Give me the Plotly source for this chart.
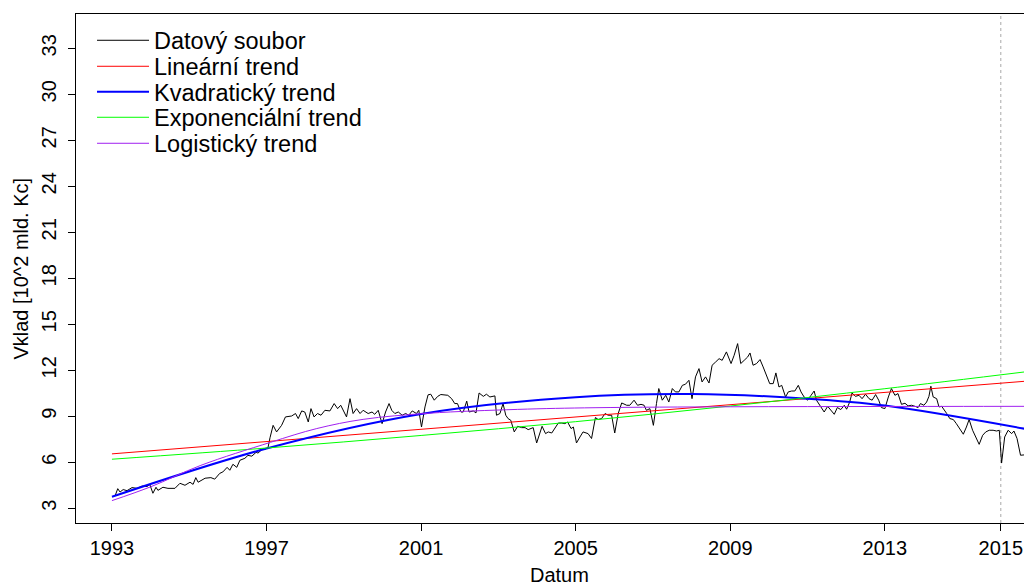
import plotly.graph_objects as go

# ---- data ----
dates = [1993.08, 1993.15, 1993.21, 1993.29, 1993.39, 1993.52, 1993.65, 1993.78, 1993.91, 1993.98,
         1994.06, 1994.14, 1994.19, 1994.32, 1994.45, 1994.63, 1994.76, 1994.89, 1995.02, 1995.10,
         1995.17, 1995.23, 1995.41, 1995.56, 1995.66, 1995.79, 1995.87, 1995.98, 1996.05, 1996.13,
         1996.23, 1996.31, 1996.44, 1996.52, 1996.62, 1996.73, 1996.78, 1996.91, 1996.96, 1997.04,
         1997.09, 1997.17, 1997.26, 1997.39, 1997.49, 1997.65, 1997.75, 1997.82, 1997.91, 1997.99,
         1998.08, 1998.15, 1998.23, 1998.32, 1998.41, 1998.51, 1998.64, 1998.75, 1998.84, 1998.92,
         1999.07, 1999.16, 1999.24, 1999.33, 1999.42, 1999.50, 1999.63, 1999.73, 1999.80, 1999.89,
         1999.99, 2000.08, 2000.17, 2000.24, 2000.32, 2000.41, 2000.51, 2000.60, 2000.68, 2000.77,
         2000.88, 2000.94, 2001.01, 2001.10, 2001.18, 2001.25, 2001.34, 2001.43, 2001.51, 2001.69,
         2001.79, 2001.87, 2001.94, 2002.03, 2002.09, 2002.18, 2002.24, 2002.35, 2002.42, 2002.50,
         2002.61, 2002.69, 2002.78, 2002.91, 2002.95, 2003.04, 2003.12, 2003.19, 2003.25, 2003.32,
         2003.41, 2003.50, 2003.60, 2003.69, 2003.77, 2003.90, 2003.99, 2004.07, 2004.13, 2004.22,
         2004.29, 2004.38, 2004.46, 2004.55, 2004.64, 2004.72, 2004.79, 2004.88, 2004.94, 2005.02,
         2005.11, 2005.19, 2005.32, 2005.41, 2005.51, 2005.58, 2005.67, 2005.76, 2005.84, 2005.93,
         2006.01, 2006.10, 2006.19, 2006.32, 2006.40, 2006.51, 2006.60, 2006.69, 2006.77, 2006.83,
         2006.92, 2007.01, 2007.09, 2007.15, 2007.24, 2007.33, 2007.41, 2007.50, 2007.58, 2007.67,
         2007.76, 2007.84, 2007.93, 2008.01, 2008.10, 2008.19, 2008.27, 2008.36, 2008.45, 2008.53,
         2008.62, 2008.71, 2008.79, 2008.90, 2009.02, 2009.10, 2009.19, 2009.27, 2009.36, 2009.45,
         2009.51, 2009.59, 2009.68, 2009.77, 2009.85, 2009.94, 2010.02, 2010.11, 2010.18, 2010.26,
         2010.33, 2010.43, 2010.50, 2010.59, 2010.67, 2010.76, 2010.83, 2010.91, 2011.00, 2011.09,
         2011.17, 2011.23, 2011.32, 2011.43, 2011.52, 2011.60, 2011.69, 2011.77, 2011.86, 2011.95,
         2012.01, 2012.09, 2012.15, 2012.24, 2012.33, 2012.41, 2012.50, 2012.59, 2012.67, 2012.76,
         2012.84, 2012.91, 2013.00, 2013.09, 2013.17, 2013.26, 2013.34, 2013.43, 2013.52, 2013.60,
         2013.69, 2013.78, 2013.86, 2013.92, 2014.01, 2014.08, 2014.14, 2014.19, 2014.25, 2014.34,
         2014.40, 2014.47, 2014.53, 2014.60, 2014.68, 2014.77, 2014.85, 2014.94, 2015.03, 2015.11,
         2015.18, 2015.27, 2015.35, 2015.44, 2015.53, 2015.61, 2015.70, 2015.80, 2015.89, 2015.96,
         2016.02, 2016.10, 2016.19, 2016.28, 2016.34, 2016.42, 2016.51, 2016.60, 2016.68]
values = [3.80, 4.28, 4.06, 4.22, 4.15, 4.35, 4.30, 4.45, 4.42, 4.55,
          3.98, 4.37, 4.17, 4.37, 4.30, 4.30, 4.63, 4.50, 4.70, 4.56,
          5.00, 4.70, 4.96, 5.00, 4.90, 5.28, 5.37, 5.67, 5.48, 5.87,
          5.67, 6.13, 6.26, 6.45, 6.40, 6.65, 6.60, 6.90, 6.84, 6.98,
          7.60, 8.41, 7.98, 8.41, 8.96, 9.02, 9.18, 8.85, 9.35, 9.28,
          8.63, 9.50, 8.96, 9.18, 9.07, 9.39, 9.35, 9.83, 9.50, 9.72,
          8.96, 10.15, 9.18, 9.50, 9.18, 9.39, 9.18, 9.28, 9.13, 9.39,
          8.52, 9.28, 9.83, 9.39, 9.18, 9.28, 9.07, 9.18, 9.07, 9.35,
          9.18, 9.39, 8.30, 9.61, 10.40, 10.44, 10.05, 10.30, 10.42, 10.37,
          10.15, 9.83, 9.83, 9.28, 9.28, 9.99, 9.28, 9.35, 9.22, 10.52,
          10.30, 10.44, 10.26, 10.33, 9.07, 9.18, 9.83, 9.07, 8.85, 8.74,
          7.98, 8.35, 8.26, 8.26, 8.13, 8.26, 7.26, 7.87, 8.35, 7.87,
          7.98, 7.91, 8.26, 8.56, 8.56, 8.52, 8.63, 8.20, 8.30, 7.26,
          7.65, 7.98, 7.87, 7.55, 8.92, 8.79, 8.85, 9.18, 9.07, 9.07,
          7.91, 9.18, 9.87, 9.72, 9.72, 10.05, 9.72, 9.78, 9.72, 9.39,
          9.50, 8.41, 9.83, 10.81, 10.05, 10.37, 9.93, 10.81, 10.59, 10.59,
          11.02, 11.09, 11.35, 10.15, 11.57, 12.11, 11.24, 11.57, 11.17, 12.33,
          12.54, 12.76, 12.65, 13.20, 12.44, 12.98, 13.74, 12.44, 12.65, 12.87,
          13.13, 12.33, 12.44, 12.70, 12.22, 11.68, 11.13, 11.13, 11.83, 10.91,
          11.02, 10.26, 10.59, 10.65, 10.65, 11.02, 10.59, 10.26, 10.05, 10.37,
          10.65, 10.05, 9.72, 9.28, 9.65, 9.39, 9.13, 9.57, 9.44, 9.72,
          9.46, 9.93, 10.52, 10.30, 10.37, 10.15, 10.44, 10.15, 10.05, 10.42,
          10.05, 9.57, 9.50, 10.26, 10.81, 10.37, 10.48, 9.78, 9.85, 9.68,
          9.72, 9.65, 9.57, 9.83, 9.72, 9.93, 10.30, 10.96, 10.26, 10.15,
          9.61, 9.65, 9.39, 9.18, 8.85, 8.79, 8.52, 8.20, 7.83, 8.30,
          8.79, 8.09, 7.61, 7.17, 7.76, 7.98, 8.09, 8.09, 8.04, 8.09,
          5.95, 7.65, 8.09, 7.87, 8.04, 7.55, 6.46, 6.46, 6.50]

# trend curves, values read at a few dates
lin_dates = [1993.0, 2016.7]
lin_values = [6.55, 11.30]

quad_dates = [1993.0, 1997.0, 2001.0, 2005.0, 2008.0, 2011.0, 2013.0, 2016.7]
quad_values = [3.75, 6.90, 9.15, 10.25, 10.45, 10.15, 9.70, 8.15]

exp_dates = [1993.0, 1997.0, 2001.0, 2005.0, 2009.0, 2013.0, 2016.7]
exp_values = [6.20, 6.93, 7.75, 8.65, 9.67, 10.80, 11.92]

log_dates = [1993.0, 1994.0, 1995.3, 1997.1, 1998.3, 1999.5, 2001.2, 2003.5, 2005.5, 2009.0, 2013.0, 2016.7]
log_values = [3.50, 4.40, 5.80, 7.30, 8.20, 8.80, 9.20, 9.45, 9.56, 9.62, 9.64, 9.65]

series_names = ["Datový soubor", "Lineární trend", "Kvadratický trend",
                "Exponenciální trend", "Logistický trend"]

x_tick_vals = [1993, 1997, 2001, 2005, 2009, 2013, 2016]
x_tick_text = ["1993", "1997", "2001", "2005", "2009", "2013", "2015"]
y_tick_vals = [3, 6, 9, 12, 15, 18, 21, 24, 27, 30, 33]
marker_date = 2016.0

FONT = "Liberation Sans, Arial, Helvetica, sans-serif"

fig = go.Figure()
traces = [
    (dates, values, dict(color="black", width=1)),
    (lin_dates, lin_values, dict(color="#FF0000", width=1)),
    (quad_dates, quad_values, dict(color="#0000FF", width=2, shape="spline")),
    (exp_dates, exp_values, dict(color="#00FF00", width=1, shape="spline")),
    (log_dates, log_values, dict(color="#A020F0", width=1, shape="spline")),
]
legend_ids = ["legend", "legend2", "legend3", "legend4", "legend5"]
for (xs, ys, ln), name, lid in zip(traces, series_names, legend_ids):
    fig.add_trace(go.Scatter(x=xs, y=ys, mode="lines", name=name, line=ln, legend=lid))

fig.add_shape(type="line", xref="x", yref="paper", x0=marker_date, x1=marker_date, y0=0, y1=1,
              line=dict(color="#A8A8A8", width=1, dash="dot"), layer="below")

legend_rows_y = [0.94794, 0.89685, 0.84676, 0.79666, 0.74558]
legend_layout = {}
for lid, ly in zip(legend_ids, legend_rows_y):
    legend_layout[lid] = dict(x=0.0169, y=ly, xanchor="left", yanchor="middle",
                              bgcolor="rgba(0,0,0,0)", borderwidth=0,
                              font=dict(size=23.5, family=FONT, color="black"),
                              itemwidth=52)

fig.update_layout(
    width=1024, height=585,
    margin=dict(l=76, r=0, t=14, b=62, autoexpand=False),
    paper_bgcolor="white", plot_bgcolor="white",
    font=dict(family=FONT, color="black", size=20),
    showlegend=True,
    xaxis=dict(range=[1992.07, 2016.60], tickmode="array", tickvals=x_tick_vals,
               ticktext=x_tick_text, ticks="outside", ticklen=7, tickwidth=1,
               tickcolor="black", showline=True, linecolor="black", linewidth=1,
               mirror=True, showgrid=False, zeroline=False, automargin=False,
               tickfont=dict(size=20), ticklabelstandoff=0),
    yaxis=dict(range=[2.04, 35.24], tickmode="array", tickvals=y_tick_vals,
               ticks="outside", ticklen=7, tickwidth=1, tickcolor="black",
               showline=True, linecolor="black", linewidth=1, mirror=False,
               showgrid=False, zeroline=False, tickangle=-90, automargin=False,
               tickfont=dict(size=20), ticklabelstandoff=4),
    annotations=[
        dict(text="Datum", xref="paper", yref="paper", x=0.5105, y=-0.1012,
             xanchor="center", yanchor="middle", showarrow=False,
             font=dict(size=20, family=FONT)),
        dict(text="Vklad [10^2 mld. Kc]", xref="paper", yref="paper", x=-0.059, y=0.5,
             xanchor="center", yanchor="middle", showarrow=False, textangle=-90,
             font=dict(size=20, family=FONT)),
    ],
    **legend_layout,
)

fig.write_html("out.html", config={"displayModeBar": False},
               post_script="document.body.style.margin='0';document.body.style.overflow='hidden';")
